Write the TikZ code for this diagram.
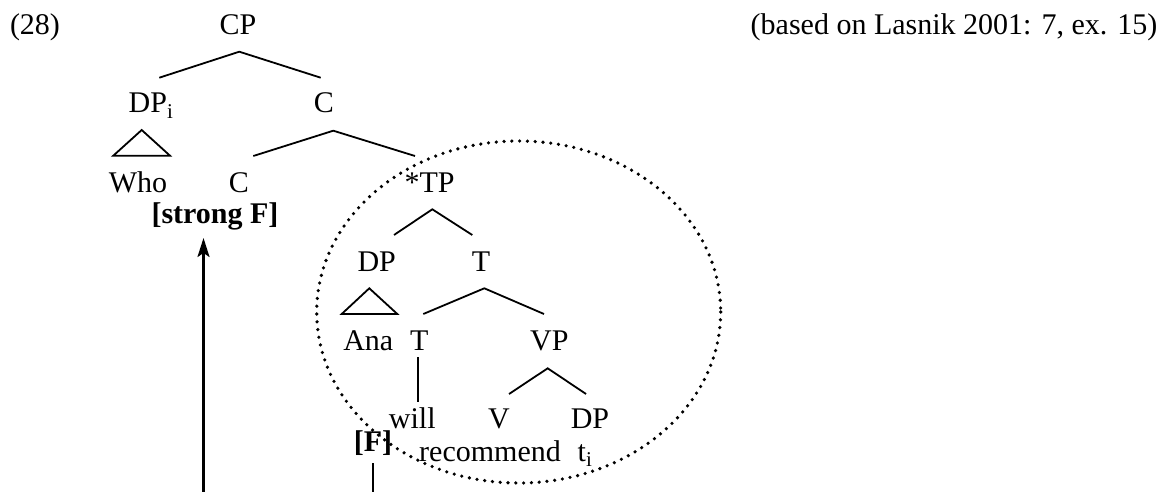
\documentclass[tikz,border=0pt]{standalone}
\usepackage{fontspec}
\setmainfont{Liberation Serif}
\usetikzlibrary{arrows.meta}
\begin{document}
\begin{tikzpicture}[x=1pt,y=-1pt,
  lbl/.style={anchor=base,inner sep=0pt,font=\fontsize{30}{34}\selectfont},
  blbl/.style={lbl,font=\fontsize{30}{34}\selectfont\bfseries},
  br/.style={line width=1.8pt},
  circ/.style={line width=3.6pt,line cap=round,dash pattern=on 0pt off 7.8pt}]
\useasboundingbox (0,0) rectangle (1164,492);
% labels
\node[lbl] (ex) at (35,35) {(28)};
\node[lbl] (src) at (954,35) {(based on Lasnik 2001: 7, ex. 15)};
\node[lbl] (CP) at (238,35) {CP};
\node[lbl] (DPi) at (151,113) {DP\textsubscript{i}};
\node[lbl] (Cbar) at (324,113) {C};
\node[lbl] (Who) at (138,192) {Who};
\node[lbl] (C) at (239,192) {C};
\node[lbl] (TP) at (429.5,192) {*TP};
\node[blbl] (sF) at (215,223) {[strong F]};
\node[lbl] (DP) at (376.7,271) {DP};
\node[lbl] (Tbar) at (481,271) {T};
\node[lbl] (Ana) at (368.3,350) {Ana};
\node[lbl] (T) at (419.3,350) {T};
\node[lbl] (VP) at (549.3,350) {VP};
\node[lbl] (will) at (412.3,428) {will};
\node[lbl] (V) at (499,428) {V};
\node[lbl] (DPt) at (590,428) {DP};
\node[blbl] (F) at (373,451.5) {[F]};
\node[lbl] (rec) at (490,461.5) {recommend};
\node[lbl] (ti) at (585,461.5) {t\textsubscript{i}};
% branch points
\coordinate (cpA) at (239.3,51.7);
\coordinate (cpL) at (159.3,77.7);
\coordinate (cpR) at (320.7,77.7);
\coordinate (cA) at (333.3,130.7);
\coordinate (cL) at (253.3,156);
\coordinate (cR) at (415,156);
\coordinate (tpA) at (432.3,209.3);
\coordinate (tpL) at (394,235);
\coordinate (tpR) at (472.3,235);
\coordinate (tA) at (484.3,288.3);
\coordinate (tL) at (423.3,314);
\coordinate (tR) at (544,314);
\coordinate (vpA) at (547.7,368.3);
\coordinate (vpL) at (509,394);
\coordinate (vpR) at (586,394);
\coordinate (wT) at (418.3,357.3);
\coordinate (wB) at (418.3,402.3);
% branches
\draw[br] (cpL) -- (cpA) -- (cpR);
\draw[br] (cL) -- (cA) -- (cR);
\draw[br] (tpL) -- (tpA) -- (tpR);
\draw[br] (tL) -- (tA) -- (tR);
\draw[br] (vpL) -- (vpA) -- (vpR);
\draw[br] (wT) -- (wB);
% triangles
\draw[br,line join=miter] (141.7,130) -- (113.3,155.7) -- (170,155.7) -- cycle;
\draw[br,line join=miter] (369.3,288.3) -- (341.7,314) -- (397.3,314) -- cycle;
% dotted circle
\coordinate (ell) at (518.7,312);
\draw[circ] (ell) ellipse [x radius=202, y radius=171];
% arrow and line from [F]
\coordinate (arrB) at (203.5,492);
\coordinate (arrT) at (203.5,238);
\draw[line width=2.2pt,-{Stealth[length=19pt,width=12pt,inset=4pt]}] (arrB) -- (arrT);
\coordinate (fT) at (372.7,463);
\coordinate (fB) at (372.7,492);
\draw[line width=2.2pt] (fT) -- (fB);
\end{tikzpicture}
\end{document}
